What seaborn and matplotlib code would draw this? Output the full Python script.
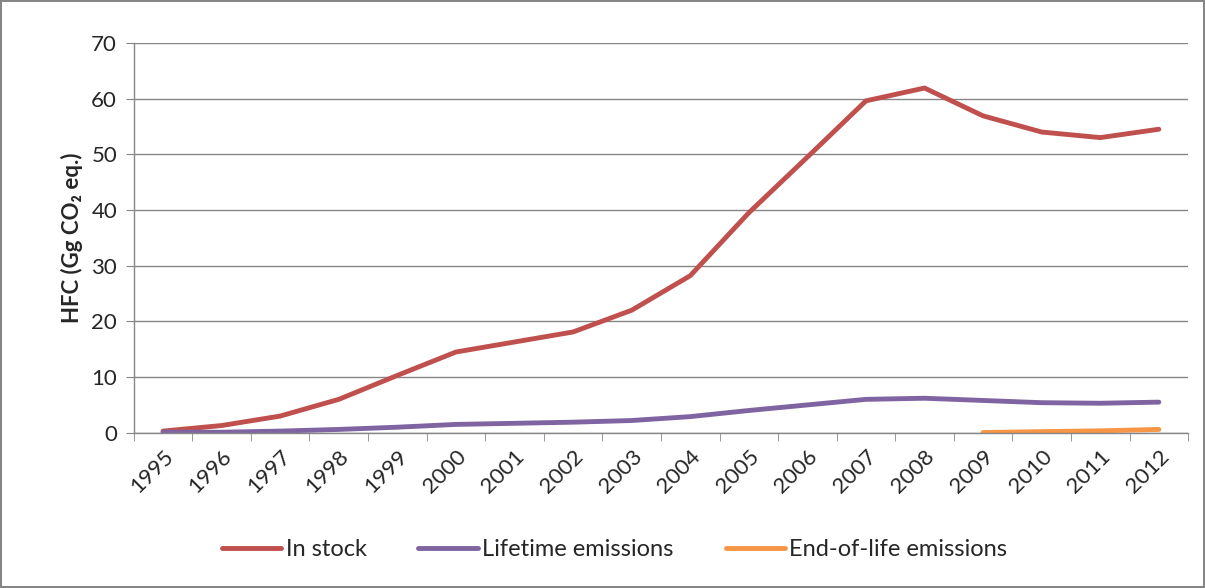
import numpy as np
import pandas as pd
import matplotlib
matplotlib.use('Agg')
import matplotlib.pyplot as plt
import seaborn as sns

years = [str(y) for y in range(1995, 2013)]
in_stock = [0.3, 1.3, 3.0, 6.0, 10.3, 14.5, 16.3, 18.1, 22.0, 28.2,
            39.5, 49.5, 59.6, 61.9, 56.9, 54.0, 53.0, 54.5]
lifetime = [0.1, 0.1, 0.3, 0.6, 1.0, 1.5, 1.7, 1.9, 2.2, 2.9,
            4.0, 5.0, 6.0, 6.2, 5.8, 5.4, 5.3, 5.5]
end_of_life = [np.nan] * 14 + [0.05, 0.2, 0.35, 0.6]

series = ['In stock', 'Lifetime emissions', 'End-of-life emissions']
colors = ['#C0504D', '#8064A2', '#F79646']

df = pd.DataFrame({'pos': list(range(len(years))) * 3,
                   'value': in_stock + lifetime + end_of_life,
                   'series': np.repeat(series, len(years))})

sns.set_style('white')
plt.rcParams['font.family'] = ['Lato', 'DejaVu Sans']

fig = plt.figure(figsize=(12.05, 5.88), dpi=100)
fig.patch.set_edgecolor('#868686')
fig.patch.set_linewidth(1.5)
ax = fig.add_axes([0.111, 0.264, 0.875, 0.663])

sns.lineplot(data=df, x='pos', y='value', hue='series', hue_order=series,
             palette=colors, linewidth=3.5, ax=ax, legend=True)

ax.set_xlim(-0.5, len(years) - 0.5)
ax.set_ylim(0, 70)
ax.set_yticks(range(0, 71, 10))
ax.tick_params(axis='y', labelsize=16, length=6, color='#868686', direction='out', left=True, pad=6)
ax.set_xticks(range(len(years)))
ax.set_xticklabels(years, rotation=45, fontsize=16, ha='right', rotation_mode='anchor')
ax.tick_params(axis='x', which='major', length=0, pad=10)
ax.set_xticks(np.arange(-0.5, len(years), 1), minor=True)
ax.tick_params(axis='x', which='minor', length=6, color='#868686', direction='out', bottom=True)
ax.grid(axis='y', color='#868686', linewidth=1)
ax.set_axisbelow(True)
for s in ['top', 'right']:
    ax.spines[s].set_visible(False)
for s in ['left', 'bottom']:
    ax.spines[s].set_color('#868686')
    ax.spines[s].set_linewidth(1)

ax.set_xlabel('')
ax.set_ylabel('HFC (Gg CO₂ eq.)', fontsize=16, fontweight='bold', labelpad=6)

ax.legend(loc='center', bbox_to_anchor=(0.456, -0.3), ncol=3, frameon=False,
          fontsize=17, handlelength=2.5, handletextpad=0.2, columnspacing=2.2)

fig.savefig('out.png', dpi=100)
